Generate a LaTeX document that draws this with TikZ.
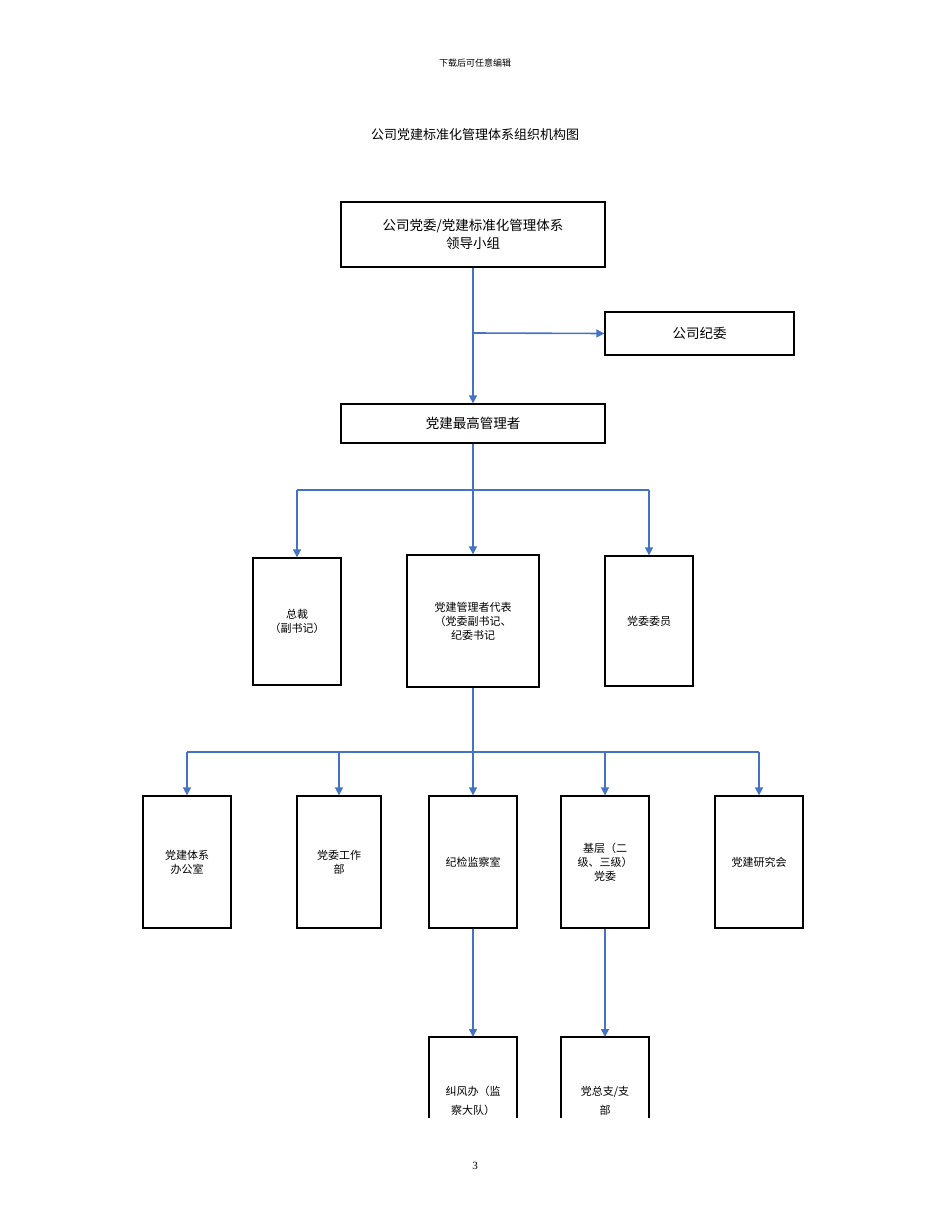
\documentclass[tikz,border=0pt]{standalone}
\usepackage{fontspec}
\setmainfont{Liberation Serif}
\newfontfamily\cjk{Noto Sans CJK SC}
\usetikzlibrary{arrows.meta}
\definecolor{ln}{HTML}{4472C4}
\begin{document}
\begin{tikzpicture}[x=1pt,y=-1pt,
 box/.style={draw,line width=1.3pt,align=center,inner sep=0,font=\cjk\fontsize{11}{14}\selectfont},
 big/.style={box,font=\cjk\fontsize{13.5}{18}\selectfont},
 con/.style={ln,line width=1.6pt},
 arr/.style={con,-{Triangle[length=8pt,width=8pt]}}]
\useasboundingbox (0,0) rectangle (950,1230);
\node[font=\cjk\fontsize{9}{11}\selectfont] (hd) at (475,63) {下载后可任意编辑};
\node[font=\cjk\fontsize{13}{16}\selectfont] (tt) at (475,135) {公司党建标准化管理体系组织机构图};
\node[big,minimum width=264pt,minimum height=65pt] (a) at (473,234.5) {公司党委/党建标准化管理体系\\领导小组};
\node[big,minimum width=189pt,minimum height=43pt] (jw) at (699.5,333.5) {公司纪委};
\node[big,minimum width=264pt,minimum height=39pt] (b) at (473,423.5) {党建最高管理者};
\node[box,minimum width=88pt,minimum height=127pt] (c1) at (297,621.5) {总裁\\（副书记）};
\node[box,minimum width=132pt,minimum height=132pt] (c2) at (473,621) {党建管理者代表\\（党委副书记、\\纪委书记};
\node[box,minimum width=88pt,minimum height=130pt] (c3) at (649,621) {党委委员};
\foreach \n/\x/\w/\t in {d1/187/88/{党建体系\\办公室},d2/339/84/{党委工作\\部},d3/473/88/{纪检监察室},d4/605/88/{基层（二\\级、三级）\\党委},d5/759/88/{党建研究会}}
  \node[box,minimum width=\w pt,minimum height=132pt] (\n) at (\x,862) {\t};
\coordinate (j1) at (473,333);
\draw[con] (a.south) -- (j1);
\draw[arr] (j1) -- (b.north);
\draw[arr] (j1) -- (jw.west);
\coordinate (h1) at (473,490);
\draw[con] (b.south) -- (h1);
\draw[con] (297,490) -- (649,490);
\draw[arr] (h1) -- (c2.north);
\draw[arr] (297,490) -- (c1.north);
\draw[arr] (649,490) -- (c3.north);
\coordinate (h2) at (473,752);
\draw[con] (c2.south) -- (h2);
\draw[con] (187,752) -- (759,752);
\foreach \n/\x in {d1/187,d2/339,d3/473,d4/605,d5/759}
  \draw[arr] (\x,752) -- (\n.north);
\begin{scope}
\clip (0,0) rectangle (950,1118);
\draw[line width=1.3pt] (429,1118) -- (429,1037) -- (517,1037) -- (517,1118);
\draw[line width=1.3pt] (561,1118) -- (561,1037) -- (649,1037) -- (649,1118);
\node[align=center,font=\cjk\fontsize{11}{19}\selectfont] (e1) at (473,1101) {纠风办（监\\察大队）};
\node[align=center,font=\cjk\fontsize{11}{19}\selectfont] (e2) at (605,1101) {党总支/支\\部};
\end{scope}
\coordinate (e1t) at (473,1037);
\coordinate (e2t) at (605,1037);
\draw[arr] (d3.south) -- (e1t);
\draw[arr] (d4.south) -- (e2t);
\node[font=\fontsize{11}{13}\selectfont] (pg) at (475,1166) {3};
\end{tikzpicture}
\end{document}
